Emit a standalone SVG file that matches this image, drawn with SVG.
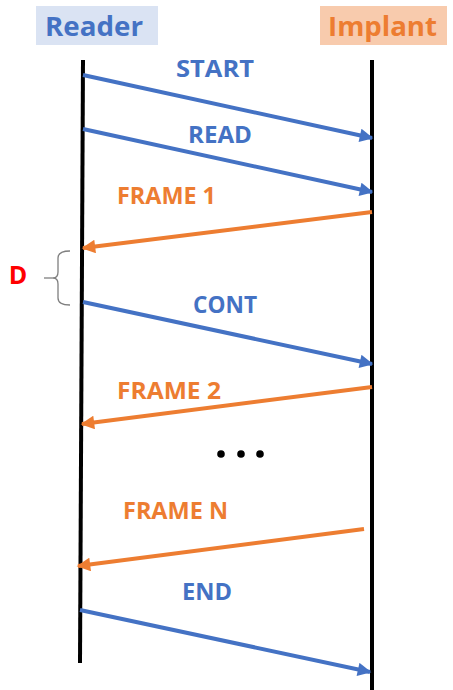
<svg xmlns="http://www.w3.org/2000/svg" width="453" height="690" viewBox="0 0 453 690">
  <style>
    .lbl { font-family: "Open Sans", "Liberation Sans", sans-serif; font-weight: bold; font-size: 23px; text-anchor: middle; }
    .hdr { font-family: "Open Sans", "Liberation Sans", sans-serif; font-weight: bold; font-size: 26px; text-anchor: middle; }
    .blue { fill: #4472c4; }
    .orange { fill: #ed7d31; }
    .lifeline { stroke: #000; stroke-width: 4; fill: none; }
    .msg-b { stroke: #4472c4; stroke-width: 4; fill: none; }
    .msg-o { stroke: #ed7d31; stroke-width: 4; fill: none; }
  </style>
  <defs>
    <marker id="headB" viewBox="0 0 10 10" refX="9" refY="5" markerWidth="4" markerHeight="3.4" orient="auto" markerUnits="strokeWidth">
      <path d="M0,0 L10,5 L0,10 z" fill="#4472c4"/>
    </marker>
    <marker id="headO" viewBox="0 0 10 10" refX="9" refY="5" markerWidth="4" markerHeight="3.4" orient="auto" markerUnits="strokeWidth">
      <path d="M0,0 L10,5 L0,10 z" fill="#ed7d31"/>
    </marker>
  </defs>

  <rect width="453" height="690" fill="#fff"/>

  <g id="reader">
    <rect x="36" y="6" width="122" height="39" fill="#dae3f3"/>
    <text x="94" y="36" class="hdr blue" textLength="98" lengthAdjust="spacingAndGlyphs">Reader</text>
    <line x1="83" y1="60" x2="80" y2="663" class="lifeline"/>
  </g>

  <g id="implant">
    <rect x="320" y="6" width="127" height="39" fill="#f8cbad"/>
    <text x="382.5" y="36" class="hdr orange" textLength="109" lengthAdjust="spacingAndGlyphs">Implant</text>
    <line x1="372" y1="60" x2="372" y2="690" class="lifeline"/>
  </g>

  <g id="connectors">
    <line x1="83" y1="75" x2="372" y2="138" class="msg-b" marker-end="url(#headB)"/>
    <line x1="83" y1="129" x2="372" y2="192" class="msg-b" marker-end="url(#headB)"/>
    <line x1="372" y1="212" x2="83" y2="248" class="msg-o" marker-end="url(#headO)"/>
    <line x1="83" y1="302" x2="372" y2="364" class="msg-b" marker-end="url(#headB)"/>
    <line x1="372" y1="387" x2="82" y2="424" class="msg-o" marker-end="url(#headO)"/>
    <line x1="364" y1="529" x2="78" y2="566" class="msg-o" marker-end="url(#headO)"/>
    <line x1="80" y1="610" x2="370" y2="672" class="msg-b" marker-end="url(#headB)"/>
  </g>

  <g id="labels">
    <text x="215" y="77" class="lbl blue" textLength="78" lengthAdjust="spacingAndGlyphs">START</text>
    <text x="220" y="143" class="lbl blue" textLength="64" lengthAdjust="spacingAndGlyphs">READ</text>
    <text x="166.5" y="204" class="lbl orange" textLength="99" lengthAdjust="spacingAndGlyphs">FRAME 1</text>
    <text x="225" y="313" class="lbl blue" textLength="64" lengthAdjust="spacingAndGlyphs">CONT</text>
    <text x="169" y="399" class="lbl orange" textLength="104" lengthAdjust="spacingAndGlyphs">FRAME 2</text>
    <text x="175.5" y="519" class="lbl orange" textLength="105" lengthAdjust="spacingAndGlyphs">FRAME N</text>
    <text x="207" y="600" class="lbl blue" textLength="50" lengthAdjust="spacingAndGlyphs">END</text>
  </g>

  <g id="ellipsis" fill="#000">
    <circle cx="221" cy="454" r="3.8"/>
    <circle cx="241" cy="454" r="3.8"/>
    <circle cx="260" cy="454" r="3.8"/>
  </g>

  <g id="delay">
    <path d="M70,251 Q58,251 58,258 L58,272 Q58,278 53,278 Q58,278 58,284 L58,298 Q58,305 70,305" fill="none" stroke="#7f7f7f" stroke-width="1.3"/>
    <line x1="44" y1="278" x2="53" y2="278" stroke="#7f7f7f" stroke-width="1.3"/>
    <text x="18" y="284" font-family="Open Sans, Liberation Sans, sans-serif" font-weight="bold" font-size="25" fill="#ff0000" text-anchor="middle">D</text>
  </g>
</svg>
